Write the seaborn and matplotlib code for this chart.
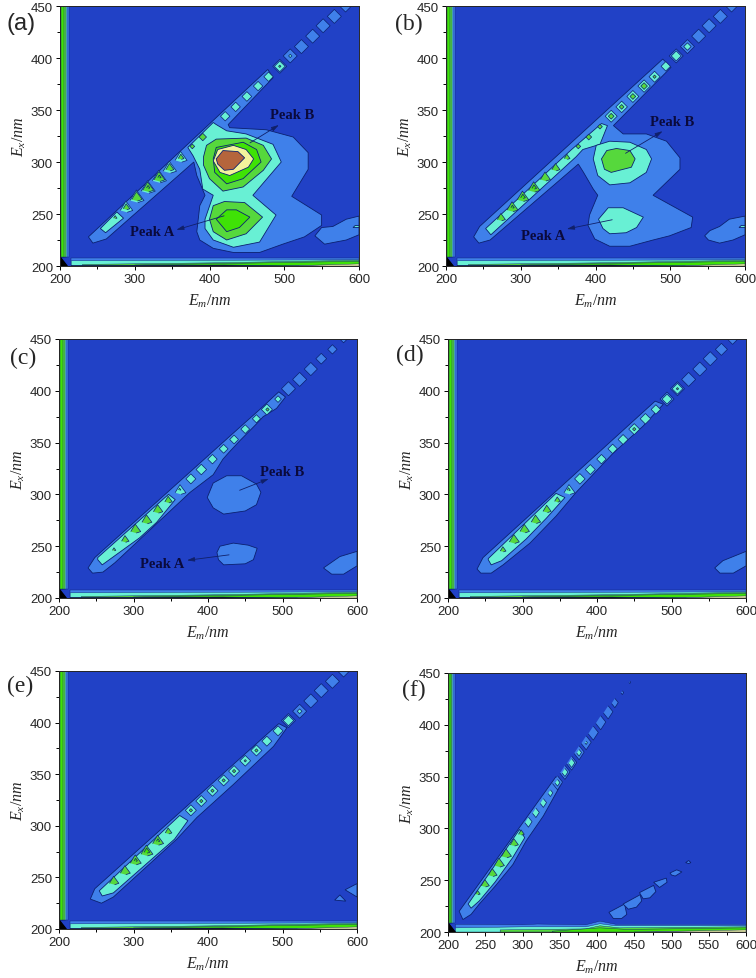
import numpy as np
import matplotlib
matplotlib.use("Agg")
import matplotlib.pyplot as plt
import seaborn as sns

sns.set_style("ticks")
plt.rcParams["font.family"] = ["Liberation Sans", "DejaVu Sans"]
plt.rcParams["mathtext.fontset"] = "custom"
plt.rcParams["mathtext.it"] = "Liberation Serif:italic"
plt.rcParams["mathtext.rm"] = "Liberation Serif"

# contour level colours
BG = "#2141C6"
LEVELS = {0: "#101010", 1: "#3F80EA", 2: "#68F0D4", 3: "#56D83C", 4: "#3FE206", 5: "#F4F49C", 6: "#B5653C"}
EDGE = "#0B2070"

# scattering ridge (a)-(e)
bead_em = [259, 274, 289, 303, 318, 333, 347, 362, 377, 391, 406, 421, 435, 450, 465, 479, 494, 508, 523, 538, 552, 567, 582]
bead_ex = [238, 247, 257, 267, 276, 286, 295, 305, 315, 324, 334, 344, 353, 363, 373, 382, 392, 402, 411, 421, 431, 440, 450]
# panel (f) has its own ridge
bead_em_f = [240, 250, 260, 269, 278.5, 289, 298.5, 308, 318, 328, 337.5, 347, 357, 366, 376, 385.5, 395, 405, 415, 424, 434, 444]
bead_ex_f = [238, 247, 257.4, 267, 276, 286.5, 296, 306, 315, 324.5, 334, 344, 354, 363, 373, 382.6, 392, 402, 412, 421, 431, 441]

heights_a = [2.5, 3.1, 3.4, 4.0, 4.1, 4.1, 3.6, 3.3, 3.2, 3.5, 2.1, 2.8, 2.8, 2.85, 2.8, 2.8, 3.05, 2.1, 1.9, 1.8, 1.8, 1.7, 1.5]
heights_b = [3.0, 3.6, 4.1, 4.2, 4.2, 3.9, 3.6, 3.3, 3.2, 3.3, 3.2, 3.3, 3.2, 3.3, 3.4, 3.1, 2.8, 2.9, 2.5, 1.8, 1.7, 1.7, 1.5]
heights_c = [2.3, 3.1, 3.5, 3.9, 3.9, 3.8, 3.5, 3.05, 2.9, 3.0, 2.8, 2.7, 2.7, 2.7, 2.6, 3.1, 2.4, 1.9, 1.9, 1.6, 1.4, 1.3, 1.2]
heights_d = [2.5, 3.3, 3.9, 3.8, 3.8, 3.6, 3.3, 3.1, 3.0, 2.9, 2.8, 2.8, 2.9, 3.1, 3.0, 2.8, 2.9, 3.05, 1.9, 1.8, 1.7, 1.5, 1.4]
heights_e = [2.1, 3.8, 3.9, 4.1, 4.3, 4.1, 3.4, 3.0, 3.1, 3.1, 3.1, 3.1, 3.1, 3.05, 3.1, 2.9, 2.9, 3.0, 2.2, 1.9, 1.8, 1.7, 1.5]
heights_f = [3.2, 3.6, 3.7, 3.9, 3.9, 3.6, 3.3, 2.9, 2.8, 2.7, 2.4, 2.4, 2.6, 2.7, 2.4, 2.1, 1.9, 1.8, 1.6, 1.3, 1.05, 1.02]

# contour outlines as (em, ex), level in front
regions_a = [
    (1, [(238, 228), (244, 222), (262, 226), (379, 300), (383, 287), (394, 268), (387, 258), (383, 233), (387, 225), (405, 217), (432, 213), (467, 213), (498, 221), (527, 228), (550, 239), (550, 249), (510, 267), (532, 293), (532, 309), (512, 324), (476, 331), (427, 333), (425, 336), (485, 381), (478, 389), (253, 238)]),
    (1, [(541, 229), (550, 237), (565, 238), (583, 245), (600, 248), (600, 230), (583, 225), (554, 221)]),
    (2, [(254, 236), (261, 232), (285, 246), (276, 252)]),
    (2, [(371, 314), (378, 306), (387, 293), (391, 274), (405, 268), (394, 245), (394, 236), (405, 225), (432, 218), (467, 223), (489, 249), (458, 268), (496, 300), (485, 317), (449, 327), (423, 330), (409, 336), (405, 338)]),
    (2, [(592, 237), (595, 239), (600, 239), (600, 237)]),
    (3, [(392, 305), (396, 316), (409, 322), (449, 323), (472, 316), (483, 303), (472, 292), (445, 276), (418, 272), (400, 284), (392, 297)]),
    (3, [(400, 245), (405, 258), (420, 262), (447, 261), (471, 247), (449, 231), (423, 225), (405, 233)]),
    (4, [(405, 303), (409, 314), (445, 319), (463, 312), (469, 300), (445, 284), (423, 279), (407, 290)]),
    (4, [(409, 245), (423, 254), (436, 254), (454, 247), (440, 237), (423, 233)]),
    (5, [(405, 301), (411, 312), (432, 316), (449, 312), (459, 303), (452, 295), (427, 287), (414, 290)]),
    (6, [(409, 303), (418, 311), (438, 310), (447, 304), (432, 293), (420, 292), (411, 298)]),
]
regions_b = [
    (1, [(237, 228), (244, 222), (259, 225), (377, 298), (384, 290), (397, 274), (403, 268), (392, 249), (390, 239), (399, 226), (419, 219), (446, 219), (477, 225), (499, 229), (528, 237), (530, 247), (477, 268), (513, 293), (513, 304), (495, 320), (468, 327), (437, 327), (424, 335), (501, 391), (490, 399), (245, 238)]),
    (1, [(546, 229), (553, 234), (566, 238), (579, 245), (600, 248), (600, 230), (584, 225), (566, 222), (551, 225)]),
    (2, [(253, 236), (260, 230), (374, 305), (383, 312), (406, 317), (416, 335), (408, 337), (368, 312)]),
    (2, [(397, 303), (401, 316), (419, 320), (446, 319), (468, 312), (475, 303), (468, 290), (446, 280), (419, 278), (403, 287)]),
    (2, [(404, 245), (417, 256), (437, 256), (464, 247), (455, 237), (441, 232), (419, 231), (410, 236)]),
    (2, [(592, 237), (595, 239), (600, 239), (600, 237)]),
    (3, [(408, 303), (415, 311), (428, 313), (446, 311), (453, 303), (448, 295), (421, 290), (412, 293)]),
]
regions_c = [
    (1, [(239, 229), (245, 224), (259, 225), (275, 234), (376, 302), (407, 319), (420, 334), (430, 342), (443, 352), (465, 368), (474, 375), (492, 383), (504, 394), (495, 399), (468, 381), (443, 365), (248, 239)]),
    (1, [(399, 297), (407, 311), (425, 318), (445, 318), (465, 310), (471, 302), (465, 290), (450, 284), (421, 281), (407, 287)]),
    (1, [(412, 244), (416, 250), (434, 253), (454, 251), (466, 248), (461, 237), (450, 233), (421, 232), (414, 237)]),
    (1, [(555, 229), (577, 240), (600, 245), (600, 231), (582, 223), (566, 223)]),
    (2, [(252, 237), (258, 232), (308, 258), (331, 273), (356, 295), (347, 300), (252, 239)]),
]
regions_d = [
    (1, [(239, 228), (244, 224), (258, 224), (274, 232), (310, 253), (345, 279), (372, 302), (422, 340), (462, 366), (489, 387), (478, 390), (247, 239)]),
    (1, [(558, 229), (569, 236), (600, 245), (600, 231), (583, 224), (565, 224)]),
    (2, [(254, 237), (258, 232), (272, 236), (305, 257), (332, 277), (357, 297), (345, 301), (254, 238)]),
]
regions_e = [
    (1, [(242, 229), (257, 225), (273, 231), (358, 287), (385, 308), (434, 340), (488, 377), (506, 395), (495, 399), (248, 239)]),
    (1, [(570, 228), (577, 233), (585, 227)]),
    (1, [(584, 238), (600, 244), (600, 231)]),
    (2, [(254, 237), (258, 232), (273, 235), (355, 287), (373, 305), (362, 310)]),
]
regions_f = [
    (1, [(215, 220), (220, 212), (231, 217), (242, 227), (263, 244), (287, 265), (305, 288), (328, 312), (352, 343), (345, 350)]),
    (1, [(416, 219), (437, 227), (440, 217), (433, 213), (422, 213)]),
    (1, [(435, 227), (458, 236), (460, 230), (453, 224), (442, 222)]),
    (1, [(457, 238), (476, 245), (479, 239), (471, 233), (462, 232)]),
    (1, [(476, 248), (493, 252), (494, 248), (484, 243)]),
    (1, [(498, 257), (507, 260), (514, 258), (505, 254), (500, 255)]),
    (1, [(519, 267), (523, 269), (526, 267), (523, 266)]),
    (2, [(227, 227), (231, 223), (242, 230), (263, 248), (287, 272), (303, 291), (296, 299)]),
]

# scatter stripes along both axes
left_edge = [(1, 212.5), (2, 210), (3, 207.5), (4, 205), (0, 200.8)]
left_edge_f = [(1, 209.5), (2, 207), (3, 206), (4, 204), (0, 200.8)]
bottom_edge = [
    (1, [(215, 207.5), (600, 207.5), (600, 200), (215, 200)]),
    (2, [(215, 205), (600, 206), (600, 200), (215, 200)]),
    (3, [(230, 201.5), (400, 203), (600, 205.5), (600, 200), (230, 200)]),
    (4, [(300, 201), (600, 204.5), (600, 200), (300, 200)]),
    (5, [(500, 200), (600, 202), (600, 200)]),
    (0, [(215, 200), (215, 200.6), (420, 201), (520, 200)]),
]
bottom_edge_f = [
    (1, [(210, 207.5), (300, 207), (320, 207.7), (385, 207), (404, 210.5), (425, 207.5), (600, 207.5), (600, 200), (210, 200)]),
    (2, [(210, 204), (300, 205), (385, 205), (404, 208), (425, 206), (600, 206), (600, 200), (210, 200)]),
    (3, [(270, 202), (385, 203), (404, 206), (430, 204), (600, 205), (600, 200), (270, 200)]),
    (4, [(340, 200.8), (404, 204), (440, 202.5), (600, 204), (600, 200), (340, 200)]),
    (5, [(450, 200), (600, 202), (600, 200)]),
]

peaks_a = [("Peak B", 511, 346, 451, 317, 496, 337), ("Peak A", 323, 233, 423, 249, 352, 234)]
peaks_b = [("Peak B", 502, 339, 437, 307, 493, 331), ("Peak A", 330, 229, 426, 245, 358, 235)]
peaks_c = [("Peak B", 500, 322, 439, 303, 485, 316), ("Peak A", 338, 233, 432, 242, 368, 236)]

DIAMOND = "D"
WEDGE = [(-1, -0.6), (-0.1, 0.9), (1, -0.6), (0.1, -0.9)]
SLIM = [(0, 1), (0.72, 0.1), (0, -1), (-0.72, -0.1)]


def draw_beads(ax, em, ex, heights, band1_end, in_lv2, wedge_end, slim=False):
    em, ex, heights = np.array(em), np.array(ex), np.array(heights)
    for k in range(1, 6):
        if k == 1:
            w = np.minimum(17 * np.sqrt(np.clip(heights - k, 0, None)), 14)
        else:
            w = np.minimum(10.5 * np.sqrt(np.clip(heights - k, 0, None)), 14)
        keep = heights > k
        if k == 1:
            keep &= em >= band1_end
        if k == 2:
            keep &= ~np.isin(em, in_lv2)
        for wedge in [True, False]:
            m = keep & ((em < wedge_end) == wedge)
            if not m.any():
                continue
            if wedge and k > 1:
                marker, size = WEDGE, w[m] / 1.389
            elif slim:
                marker, size = SLIM, w[m] / 1.389
            else:
                marker, size = DIAMOND, w[m] / 1.414 / 1.389
            sns.scatterplot(x=em[m], y=ex[m], s=size ** 2, marker=marker, color=LEVELS[k],
                            edgecolor=EDGE, linewidth=0.5, legend=False, ax=ax, zorder=5 + k)


def draw_panel(box, label, label_font, regions, beads, peaks=(), f_panel=False):
    l, t, r, b = box
    ax = fig.add_axes([l / W, 1 - b / H, (r - l) / W, (b - t) / H])
    ax.set_facecolor(BG)
    ax.set_xlim(200, 600)
    ax.set_ylim(200, 450)

    stripes = left_edge_f if f_panel else left_edge
    for lv, right in stripes:
        ax.fill([200, right, right, 200], [209, 209, 450, 450], color=LEVELS[lv], ec=EDGE, lw=0.3, zorder=2)
    for lv, poly in (bottom_edge_f if f_panel else bottom_edge):
        ax.fill(*zip(*poly), color=LEVELS[lv], ec=EDGE, lw=0.3, zorder=2)
    ax.fill([200, 200, 210], [209, 200, 200], color="black", zorder=3)

    for lv, poly in regions:
        ax.fill(*zip(*poly), color=LEVELS[lv], ec=EDGE, lw=0.6, zorder=3 + lv * 0.1)
    draw_beads(ax, *beads)

    for name, tx, ty, x0, y0, x1, y1 in peaks:
        ax.text(tx, ty, name, family="Liberation Serif", weight="bold", fontsize=10.5,
                color="#0A0A3C", ha="center", va="center", zorder=20)
        ax.annotate("", xy=(x1, y1), xytext=(x0, y0), zorder=20,
                    arrowprops=dict(arrowstyle="-|>,head_width=0.13,head_length=0.45", color="#10206A", lw=0.6))

    ax.set_xticks(range(200, 601, 50 if f_panel else 100))
    ax.set_xticks(range(225 if f_panel else 250, 601, 50 if f_panel else 100), minor=True)
    ax.set_yticks(range(200, 451, 50))
    ax.set_yticks(range(225, 451, 50), minor=True)
    ax.tick_params(which="major", length=3, width=0.7, labelsize=9.5, pad=2, color="black")
    ax.tick_params(which="minor", length=2, width=0.7, color="black")
    ax.set_xlabel(r"$E_m/nm$", fontsize=11.5, labelpad=5)
    ax.set_ylabel(r"$E_x/nm$", fontsize=11.5, labelpad=2)
    for s in ax.spines.values():
        s.set_linewidth(0.7)
        s.set_zorder(30)
    fig.text(label[1] / W, 1 - label[2] / H, label[0], family=label_font, fontsize=17, ha="left", va="center")
    return ax


W, H = 756, 979
fig = plt.figure(figsize=(W / 100, H / 100), dpi=100)

draw_panel((60, 7, 359, 267), ("(a)", 7, 24), "Liberation Sans", regions_a,
           (bead_em, bead_ex, heights_a, 485, [259, 274, 377, 391, 406], 370), peaks_a)
draw_panel((446, 7, 745, 267), ("(b)", 395, 24), "Liberation Serif", regions_b,
           (bead_em, bead_ex, heights_b, 495, [259, 274, 289, 303, 318, 333, 347, 362, 377, 391, 406], 370), peaks_b)
draw_panel((59, 340, 357, 599), ("(c)", 10, 358), "Liberation Serif", regions_c,
           (bead_em, bead_ex, heights_c, 500, [259, 274, 289, 303, 318, 333, 347], 370), peaks_c)
draw_panel((448, 340, 746, 599), ("(d)", 396, 355), "Liberation Serif", regions_d,
           (bead_em, bead_ex, heights_d, 485, [259, 274, 289, 303, 318, 333, 347], 370))
draw_panel((59, 672, 357, 930), ("(e)", 7, 686), "Liberation Serif", regions_e,
           (bead_em, bead_ex, heights_e, 500, [259, 274, 289, 303, 318, 333, 347, 362], 370))
draw_panel((448, 674, 746, 933), ("(f)", 402, 690), "Liberation Serif", regions_f,
           (bead_em_f, bead_ex_f, heights_f, 345, [240, 250, 260, 269, 278.5, 289, 298.5], 300, True), f_panel=True)

fig.savefig("out.png", dpi=100)
